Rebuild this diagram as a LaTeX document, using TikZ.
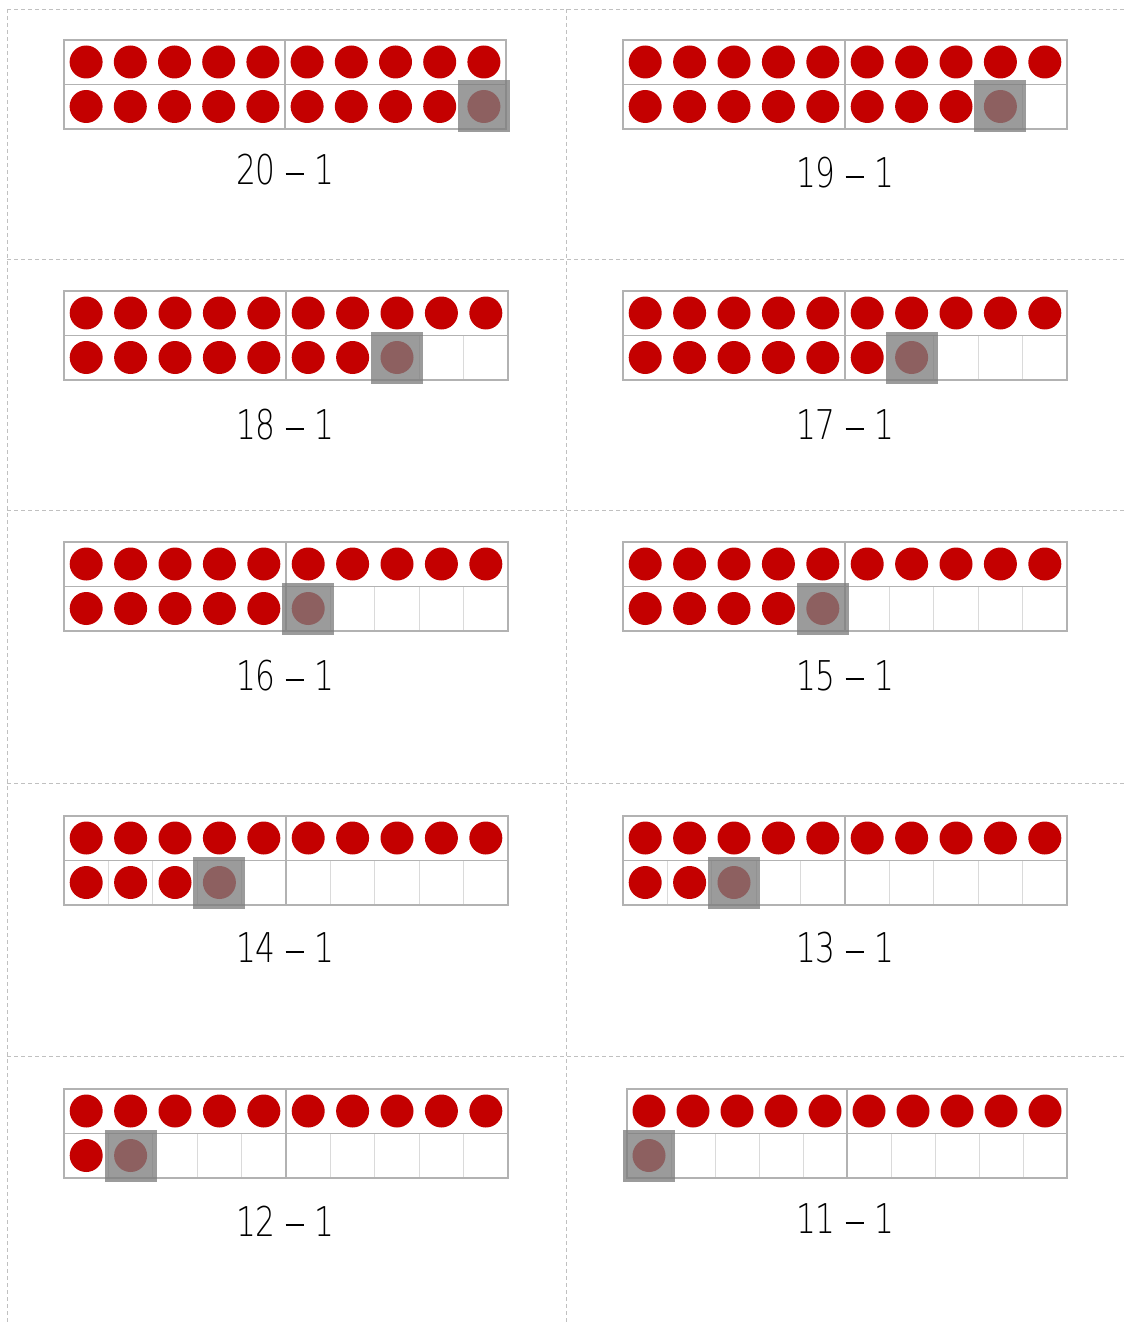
\documentclass[tikz,border=0pt]{standalone}
\usepackage{fontspec}
\newfontfamily\labfont{DejaVu Sans ExtraLight}
\definecolor{dotred}{RGB}{196,0,0}
\definecolor{framegray}{RGB}{178,178,178}
\definecolor{cellgray}{RGB}{218,218,218}
\definecolor{cutgray}{RGB}{192,192,192}
\definecolor{shadegray}{RGB}{125,125,125}
\newcommand\labdash{\raisebox{0.25em}{\rule{0.6em}{0.05em}}}
\tikzset{
  dot/.style={fill=dotred},
  frameline/.style={draw=framegray, line width=1.8pt},
  cellline/.style={draw=cellgray, line width=1pt},
  cutline/.style={draw=cutgray, line width=0.9pt, dash pattern=on 4pt off 3pt},
  shadebox/.style={fill=shadegray, fill opacity=0.77},
  lab/.style={font=\labfont\fontsize{41}{41}\selectfont, inner sep=0pt, xscale=0.76}
}
% #1 x0, #2 y0, #3 cell width, #4 number, #5 all inner lines (1) or only empty part (0)
\newcommand\tenframe[5]{%
  \begin{scope}[shift={(#1,#2)}]
    \pgfmathtruncatemacro\nb{#4-11}
    \pgfmathtruncatemacro\st{#5==1 ? 1 : #4-10}
    \foreach \k in {1,2,3,4,6,7,8,9}{%
      \ifnum\k<\st\relax\else
        \draw[cellline] ({\k*#3},44.5) -- ({\k*#3},89);
      \fi
    }
    \draw[frameline] (0,0) rectangle ({10*#3},89);
    \draw[frameline] (0,44.5) -- ({10*#3},44.5);
    \draw[frameline] ({5*#3},0) -- ({5*#3},89);
    \foreach \i in {0,...,9}{\fill[dot] ({(\i+0.5)*#3},22) circle[radius=16.5pt];}
    \foreach \i in {0,...,\nb}{\fill[dot] ({(\i+0.5)*#3},66.5) circle[radius=16.5pt];}
    \fill[shadebox] ({(#4-10.5)*#3-26},40.5) rectangle +(52,52);
  \end{scope}
}
\begin{document}
\begin{tikzpicture}[x=1pt,y=-1pt]
  \useasboundingbox (0,0) rectangle (1125,1324);
  % cut lines
  \coordinate (h0l) at (7,9);    \coordinate (h0r) at (1125,9);
  \coordinate (h1l) at (7,259);  \coordinate (h1r) at (1125,259);
  \coordinate (h2l) at (7,510);  \coordinate (h2r) at (1125,510);
  \coordinate (h3l) at (7,783);  \coordinate (h3r) at (1125,783);
  \coordinate (h4l) at (7,1056); \coordinate (h4r) at (1125,1056);
  \coordinate (v0t) at (7,9);    \coordinate (v0b) at (7,1324);
  \coordinate (v1t) at (566,9);  \coordinate (v1b) at (566,1324);
  \foreach \c in {h0,h1,h2,h3,h4}{\draw[cutline] (\c l) -- (\c r);}
  \draw[cutline] (v0t) -- (v0b);
  \draw[cutline] (v1t) -- (v1b);
  % frames
  \tenframe{64}{40}{44.2}{20}{0}
  \tenframe{623}{40}{44.4}{19}{0}
  \tenframe{64}{291}{44.4}{18}{0}
  \tenframe{623}{291}{44.4}{17}{0}
  \tenframe{64}{542}{44.4}{16}{0}
  \tenframe{623}{542}{44.4}{15}{0}
  \tenframe{64}{816}{44.4}{14}{1}
  \tenframe{623}{816}{44.4}{13}{1}
  \tenframe{64}{1089}{44.4}{12}{1}
  \tenframe{627}{1089}{44}{11}{1}
  % labels
  \node[lab] (l20) at (285,170) {20 \labdash{} 1};
  \node[lab] (l19) at (845,173) {19 \labdash{} 1};
  \node[lab] (l18) at (285,425) {18 \labdash{} 1};
  \node[lab] (l17) at (845,425) {17 \labdash{} 1};
  \node[lab] (l16) at (285,676) {16 \labdash{} 1};
  \node[lab] (l15) at (845,676) {15 \labdash{} 1};
  \node[lab] (l14) at (285,948) {14 \labdash{} 1};
  \node[lab] (l13) at (845,948) {13 \labdash{} 1};
  \node[lab] (l12) at (285,1221) {12 \labdash{} 1};
  \node[lab] (l11) at (845,1219) {11 \labdash{} 1};
\end{tikzpicture}
\end{document}
